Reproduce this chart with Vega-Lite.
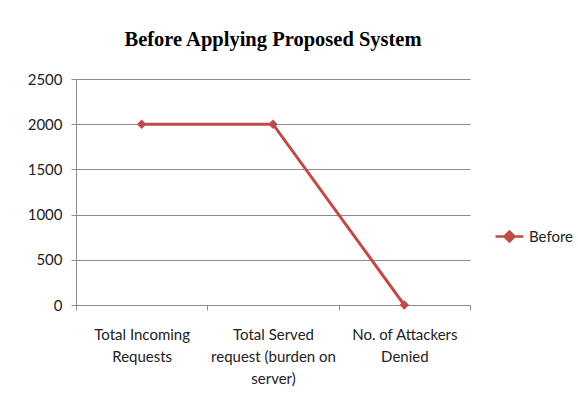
{
  "$schema": "https://vega.github.io/schema/vega-lite/v6.json",
  "width": 394,
  "height": 226,
  "autosize": "none",
  "padding": {"left": 76, "top": 79, "right": 108, "bottom": 101},
  "background": "white",
  "title": {
    "text": "Before Applying Proposed System",
    "font": "Liberation Serif",
    "fontSize": 20.5,
    "fontWeight": "bold",
    "color": "#000000",
    "anchor": "middle",
    "offset": 22
  },
  "data": {
    "values": [
      {"category": "Total Incoming Requests", "value": 2000, "series": "Before"},
      {"category": "Total Served request (burden on server)", "value": 2000, "series": "Before"},
      {"category": "No. of Attackers Denied", "value": 0, "series": "Before"}
    ]
  },
  "mark": {"type": "line", "strokeWidth": 3, "point": {"shape": "diamond", "size": 90, "filled": true, "opacity": 1}},
  "encoding": {
    "x": {
      "field": "category",
      "type": "nominal",
      "sort": null,
      "scale": {"paddingInner": 0, "paddingOuter": 0},
      "axis": {
        "title": null,
        "labelAngle": 0,
        "labelFont": "Lato",
        "labelFontSize": 15,
        "labelColor": "#222222",
        "labelPadding": 17,
        "labelLineHeight": 22,
        "labelLimit": 200,
        "domainColor": "#8c8c8c",
        "tickColor": "#8c8c8c",
        "tickSize": 5,
        "tickBand": "extent",
        "grid": false,
        "labelExpr": "datum.value == 'Total Incoming Requests' ? ['Total Incoming', 'Requests'] : datum.value == 'No. of Attackers Denied' ? ['No. of Attackers', 'Denied'] : datum.value == 'Total Served request (burden on server)' ? ['Total Served', 'request (burden on', 'server)'] : ''"
      }
    },
    "y": {
      "field": "value",
      "type": "quantitative",
      "scale": {"domain": [0, 2500]},
      "axis": {
        "title": null,
        "values": [0, 500, 1000, 1500, 2000, 2500],
        "format": "d",
        "labelFont": "Lato",
        "labelFontSize": 15,
        "labelColor": "#222222",
        "labelPadding": 9,
        "domainColor": "#8c8c8c",
        "tickColor": "#8c8c8c",
        "tickSize": 5,
        "gridColor": "#8c8c8c",
        "gridWidth": 1
      }
    },
    "color": {
      "field": "series",
      "type": "nominal",
      "scale": {"range": ["#BE4B48"]},
      "legend": {
        "title": null,
        "orient": "none",
        "legendX": 418,
        "legendY": 142,
        "labelFont": "Lato",
        "labelFontSize": 15,
        "labelColor": "#222222",
        "symbolType": "M-1,0H1M-0.36,0L0,-0.36L0.36,0L0,0.36Z",
        "symbolSize": 784,
        "symbolStrokeWidth": 2.5,
        "symbolFillColor": "#BE4B48",
        "symbolStrokeColor": "#BE4B48",
        "labelOffset": 4
      }
    }
  },
  "config": {
    "view": {"stroke": null}
  }
}
